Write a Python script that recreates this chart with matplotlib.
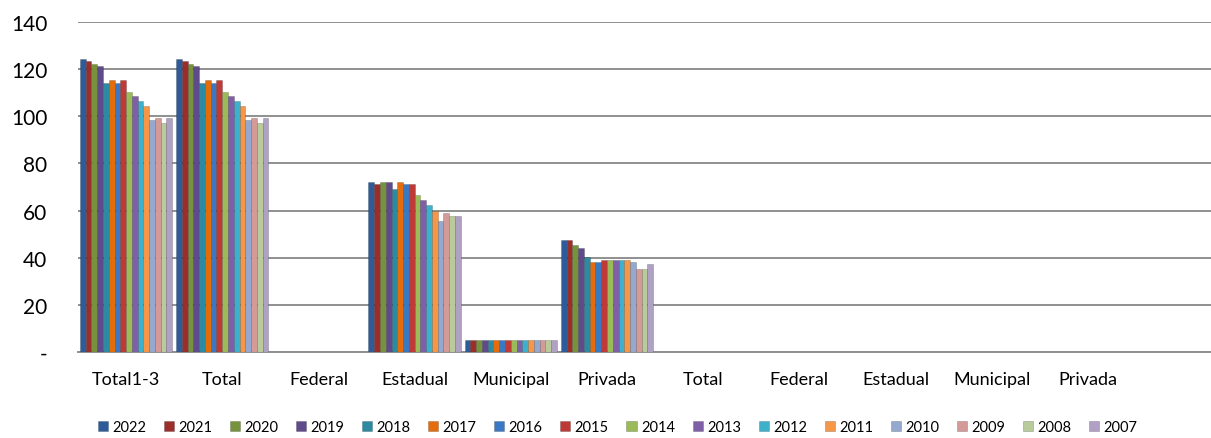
import matplotlib.pyplot as plt
import numpy as np

categories = ["Total1-3", "Total", "Federal", "Estadual", "Municipal", "Privada",
              "Total", "Federal", "Estadual", "Municipal", "Privada"]
years = ["2022", "2021", "2020", "2019", "2018", "2017", "2016", "2015",
         "2014", "2013", "2012", "2011", "2010", "2009", "2008", "2007"]

# values per year, in category order (only the first six have data)
total13 = [124.4, 123.5, 122.2, 121.4, 114.2, 115.5, 114.2, 115.5,
           110.4, 108.7, 106.6, 104.5, 98.6, 99.4, 97.3, 99.4]
total = [124.4, 123.5, 122.2, 121.4, 114.2, 115.5, 114.2, 115.5,
         110.4, 108.7, 106.6, 104.5, 98.6, 99.4, 97.3, 99.4]
federal = [0] * 16
estadual = [72.3, 71.2, 72.3, 72.3, 69.0, 72.3, 71.2, 71.2,
            66.4, 64.3, 62.2, 60.0, 55.5, 58.8, 57.5, 57.5]
municipal = [5.1] * 16
privada = [47.5, 47.5, 45.2, 44.1, 40.2, 38.1, 38.1, 38.9,
           38.9, 38.9, 38.9, 38.9, 38.1, 35.1, 35.1, 37.2]

groups = [total13, total, federal, estadual, municipal, privada]

colors = ["#2E5C9A", "#9B2D2A", "#76923C", "#5F4B8B", "#2C8BA0", "#E46C0A",
          "#3A78C3", "#BE3A36", "#9BBB59", "#7E5FA8", "#3DB0CC", "#F79646",
          "#95A8CF", "#D49A98", "#B9CB9A", "#AFA0C4"]

plt.rcParams['font.family'] = ['Lato', 'DejaVu Sans']

fig = plt.figure(figsize=(12.11, 4.39), dpi=100)
ax = fig.add_axes([78 / 1211, 1 - 353 / 439, 1 - 78 / 1211, (353 - 23) / 439])

n = len(years)
w = 0.96 / n
x = np.arange(len(categories))
for j, yr in enumerate(years):
    vals = [g[j] for g in groups] + [0] * (len(categories) - len(groups))
    pos = x - 0.48 + w * (j + 0.5)
    ax.bar(pos, vals, width=w, color=colors[j], edgecolor="#00000040",
           linewidth=0.5, label=yr, zorder=3)

ax.set_ylim(0, 140)
ax.set_xlim(-0.5, 11.28)
ax.set_yticks(range(0, 141, 20))
ax.set_yticklabels(["-"] + [str(v) for v in range(20, 141, 20)], fontsize=15)
ax.set_xticks(x)
ax.set_xticklabels(categories, fontsize=13)
ax.tick_params(length=0)
ax.tick_params(axis='y', pad=22)
ax.tick_params(axis='x', pad=14)
ax.yaxis.grid(True, color="#8f8f8f", linewidth=1.4, zorder=0)
for s in ["top", "right", "left"]:
    ax.spines[s].set_visible(False)
ax.spines["bottom"].set_color("#8f8f8f")
ax.spines["bottom"].set_linewidth(1.4)

fig.legend(loc="center", bbox_to_anchor=(0.51, 0.025), ncol=16, frameon=False,
           fontsize=10.5, handlelength=0.7, handleheight=0.7, handletextpad=0.3,
           columnspacing=1.2)

plt.savefig("out.png", dpi=100)
